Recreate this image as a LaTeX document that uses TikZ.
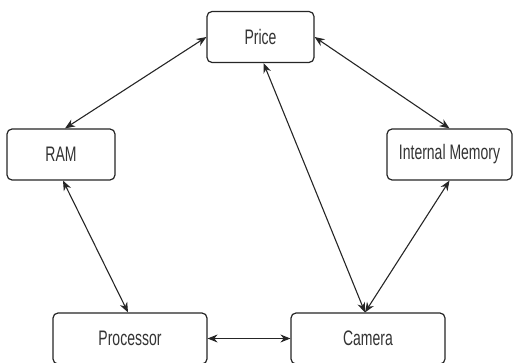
\documentclass[tikz,border=0pt]{standalone}
\usepackage{fontspec}
\setmainfont{Liberation Sans}
\usetikzlibrary{arrows.meta}
\newcommand{\vtxt}[1]{\scalebox{1}[1.5]{#1}}
\tikzset{
  box/.style={draw=black!85, line width=1.2pt, rounded corners=5pt, fill=white,
    minimum height=51pt, inner sep=0pt, font=\fontsize{14}{16}\selectfont, text=black!80},
  link/.style={draw=black!85, line width=1.1pt, {Stealth[length=10pt,width=8pt]}-{Stealth[length=10pt,width=8pt]}}
}
\begin{document}
\begin{tikzpicture}[x=1pt,y=-1pt]
\useasboundingbox (0,0) rectangle (514,363);
\node[box, minimum width=107pt] (price) at (260.5,37) {\vtxt{Price}};
\node[box, minimum width=108pt] (ram) at (61,154.5) {\vtxt{RAM}};
\node[box, minimum width=125pt] (im) at (449.5,154.5) {\vtxt{Internal Memory}};
\node[box, minimum width=154pt] (proc) at (130,338.5) {\vtxt{Processor}};
\node[box, minimum width=154pt] (cam) at (368,338.5) {\vtxt{Camera}};
\draw[link] (price.west) -- ([xshift=4pt]ram.north);
\draw[link] (price.east) -- (im.north);
\draw[link] ([xshift=3pt]price.south) -- ([xshift=-3pt]cam.north);
\draw[link] (im.south) -- ([xshift=-3pt]cam.north);
\draw[link] ([xshift=2pt]ram.south) -- ([xshift=-2pt]proc.north);
\draw[link] (proc.east) -- (cam.west);
\end{tikzpicture}
\end{document}
